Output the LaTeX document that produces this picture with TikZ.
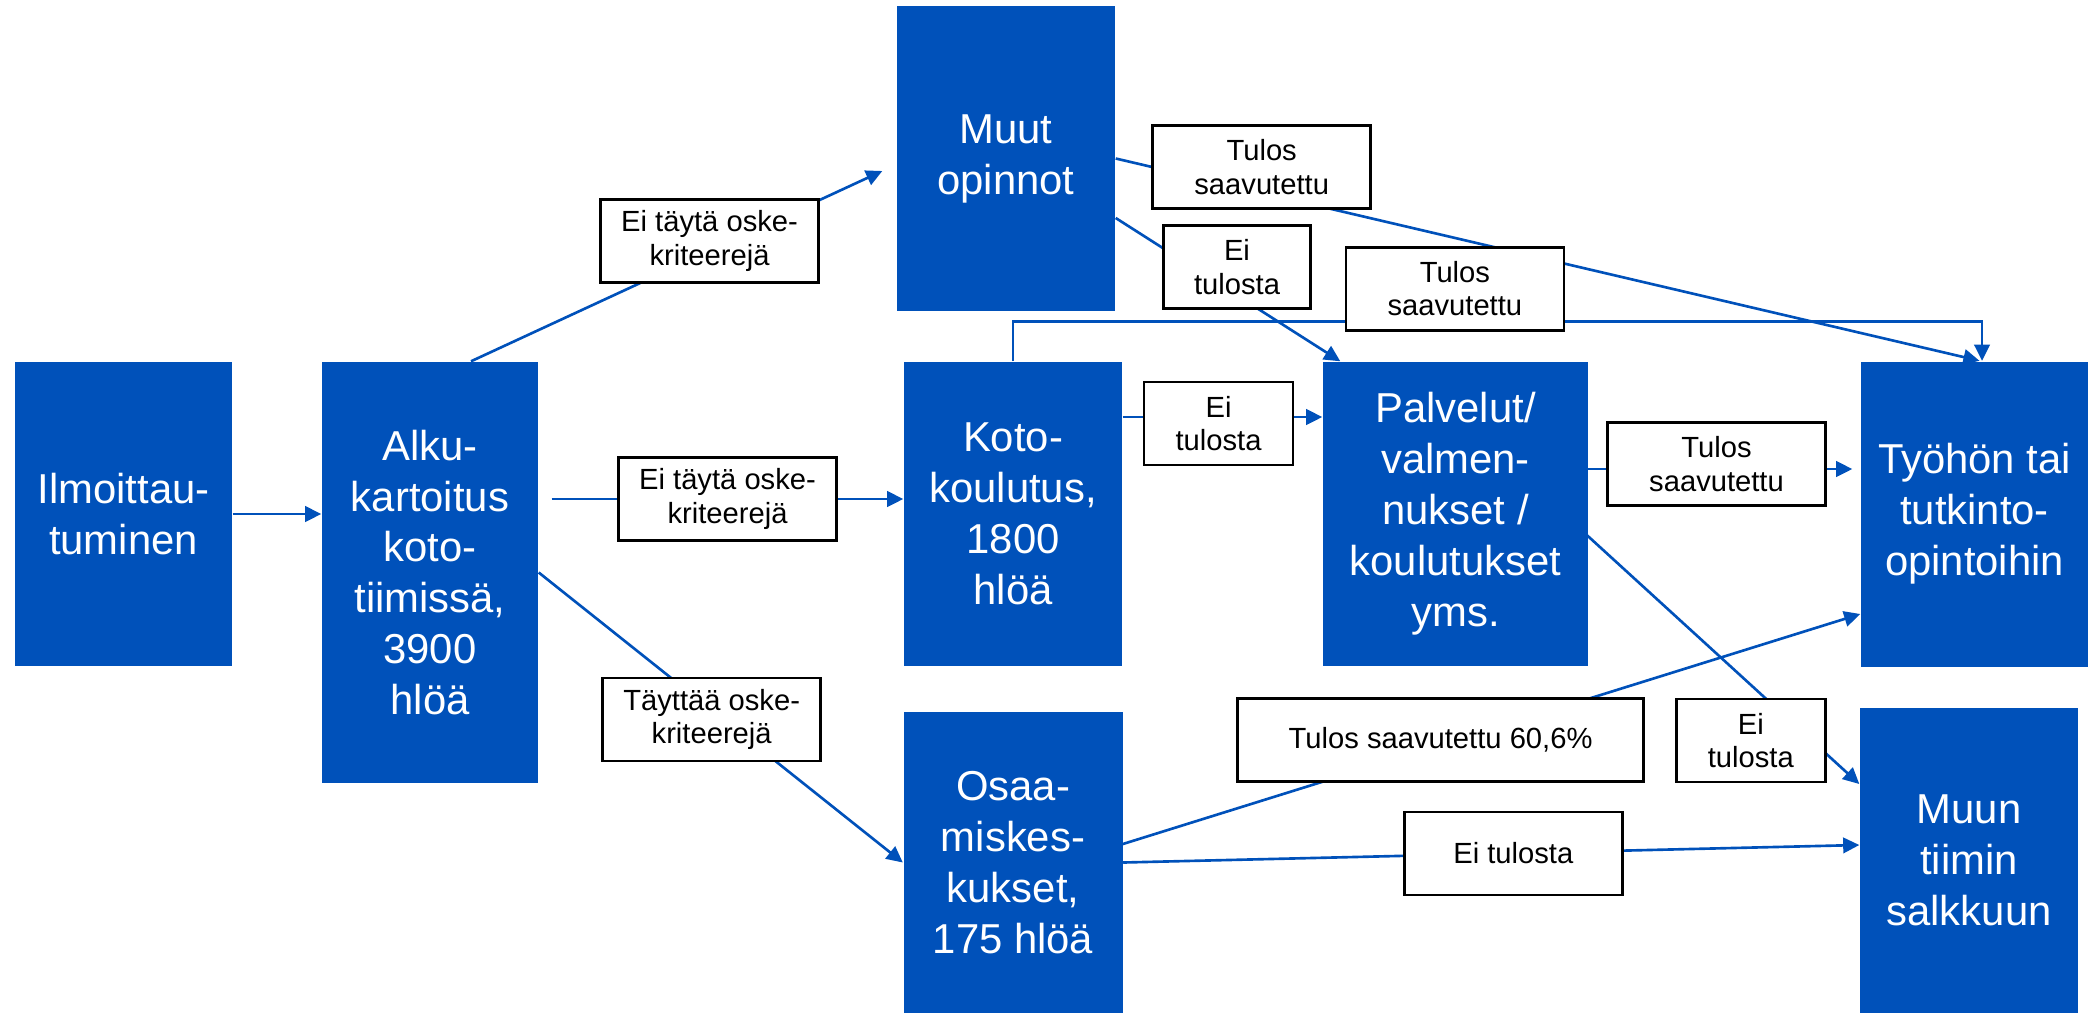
\documentclass[tikz,border=0pt]{standalone}
\usepackage{fontspec}
\setmainfont{Liberation Sans}
\usetikzlibrary{positioning,arrows.meta,calc}
\definecolor{boxblue}{RGB}{0,81,186}

\begin{document}
\begin{tikzpicture}[flow/.style={-{Triangle[length=4.6pt,width=4.4pt]}, draw=boxblue, line width=0.75pt},
  blue_box/.style={rectangle, fill=boxblue, text=white, font=\fontsize{11.9}{14.5}\selectfont, minimum width=2.18cm, minimum height=3.04cm, inner sep=0pt, align=center},
  label_box/.style={rectangle, draw=black, line width=0.7pt, fill=white, text=black, font=\fontsize{8.3}{9.5}\selectfont, minimum width=2.18cm, minimum height=0.83cm, inner sep=0pt, align=center}]

  \useasboundingbox (0,0) rectangle (20.88,-10.13);

  \node[blue_box, minimum width=2.17cm] (ilmo) at (1.235,-5.14) {Ilmoittau-\\tuminen};
  \node[blue_box, minimum width=2.16cm, minimum height=4.21cm] (alku) [right of=ilmo, node distance=3.065cm, yshift=-0.585cm] {Alku-\\kartoitus\\koto-\\tiimissä,\\3900\\hlöä};
  \node[blue_box] (koto) [right of=alku, node distance=5.83cm, yshift=0.585cm] {Koto-\\koulutus,\\1800\\hlöä};
  \node[blue_box, minimum width=2.65cm] (palv) [right of=koto, node distance=4.425cm] {Palvelut/\\valmen-\\nukset /\\koulutukset\\yms.};
  \node[blue_box, minimum width=2.27cm, minimum height=3.05cm] (tyo) [right of=palv, node distance=5.19cm] {Työhön tai\\tutkinto-\\opintoihin};
  \node[blue_box, minimum height=3.05cm] (muut) [above of=koto, node distance=3.555cm, xshift=-0.07cm] {Muut\\opinnot};
  \node[blue_box, minimum width=2.19cm, minimum height=3.01cm] (osaam) [below of=koto, node distance=3.485cm] {Osaa-\\miskes-\\kukset,\\175 hlöä};
  \node[blue_box, minimum height=3.05cm] (muun) [below of=tyo, node distance=3.465cm, xshift=-0.055cm] {Muun\\tiimin\\salkkuun};

  \draw[flow] (ilmo.east) -- (ilmo.east -| alku.west);
  \draw[flow] ([xshift=4.1mm]alku.north) -- node[label_box, pos=0.58, yshift=1mm] {Ei täytä oske-\\kriteerejä} ([xshift=-1.4mm, yshift=-1.25mm]muut.west);
  \draw[flow] ($(alku.east |- koto.west)+(1.3mm,1.5mm)$) -- node[label_box] {Ei täytä oske-\\kriteerejä} ([yshift=1.5mm]koto.west);
  \draw[flow] (alku.east) -- node[label_box, pos=0.475, yshift=-0.9mm] {Täyttää oske-\\kriteerejä} (osaam.west);

  \draw[flow] (muut.east) -- node[label_box, pos=0.169, yshift=2.55mm] {Tulos\\saavutettu} ([xshift=0.5mm]tyo.north);
  \draw[flow] ([yshift=-5.95mm]muut.east) -- node[label_box, minimum width=1.47cm, pos=0.54, yshift=2.85mm] {Ei\\tulosta} ([xshift=1.8mm]palv.north west);
  \draw[flow] (koto.north) -- ++(0,0.4) -| node[label_box, pos=0.228, yshift=3.25mm] {Tulos\\saavutettu} ([xshift=0.75mm]tyo.north);
  \draw[flow] ([yshift=9.7mm]koto.east) -- node[label_box, minimum width=1.49cm, pos=0.48, yshift=-0.65mm] {Ei\\tulosta} ([yshift=9.7mm]palv.west);

  \draw[flow] ([shift={(-0.8mm,4.5mm)}]palv.east) -- node[label_box, yshift=0.5mm] {Tulos\\saavutettu} ([shift={(-0.8mm,4.5mm)}]tyo.west);
  \draw[flow] ([xshift=-2.5mm]palv.east) -- node[label_box, minimum width=1.49cm, pos=0.633, yshift=-5.55mm] {Ei\\tulosta} ([yshift=7.65mm]muun.west);
  \draw[flow] ([shift={(-2.6mm,1.05mm)}]osaam.east) -- node[label_box, minimum width=4.06cm, pos=0.45, yshift=0.5mm] {Tulos saavutettu 60,6\%} ([yshift=-10mm]tyo.west);
  \draw[flow] (osaam.east) -- node[label_box, pos=0.53] {Ei tulosta} ([yshift=1.55mm]muun.west);
\end{tikzpicture}
\end{document}
